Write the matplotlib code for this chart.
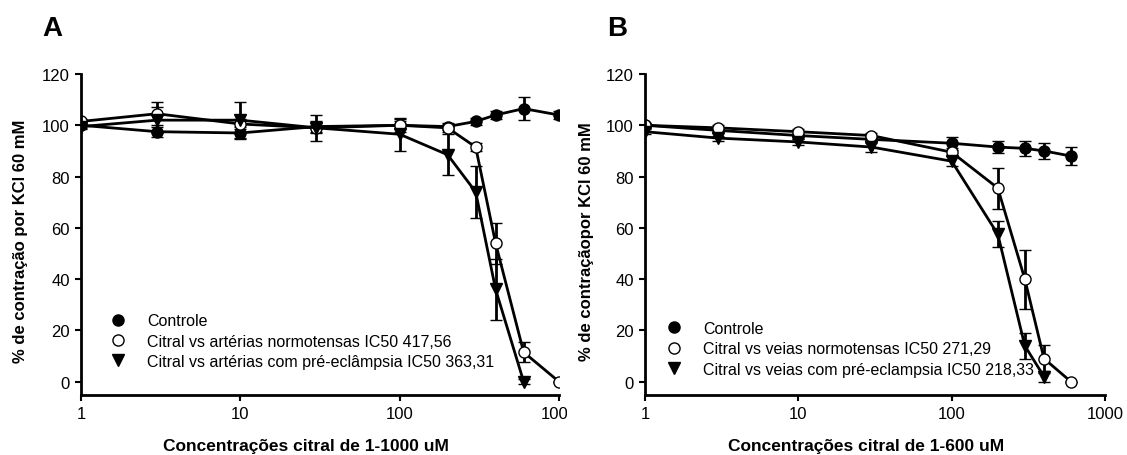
import matplotlib
matplotlib.use('Agg')
import matplotlib.pyplot as plt
from matplotlib.lines import Line2D
from matplotlib.transforms import Bbox, TransformedBbox

plt.rcParams['font.family'] = ['Liberation Sans', 'DejaVu Sans']

# painel A - arterias
conc_a = [1, 3, 10, 30, 100, 200, 300, 400, 600, 1000]
ctrl_a = [100, 97.5, 97, 99.5, 100, 99.5, 101.5, 104, 106.5, 104]
ctrl_a_err = [1, 2, 2.5, 2, 1.5, 1.5, 1.5, 1.5, 4.5, 1.5]
norm_a = [101.5, 104.5, 100.5, 99, 100, 99, 91.5, 54, 11.5, 0]
norm_a_err = [1, 4.5, 2, 2, 2.5, 1.5, 1.5, 8, 4, 0]
conc_pre_a = [1, 3, 10, 30, 100, 200, 300, 400, 600]
pre_a = [99.5, 102, 102, 99, 96.5, 88.5, 74, 36, 0]
pre_a_err = [1, 5, 7, 5, 6.5, 8, 10, 12, 1]

# painel B - veias
conc_b = [1, 3, 10, 30, 100, 200, 300, 400, 600]
ctrl_b = [100, 98, 96, 94.5, 93, 91.5, 91, 90, 88]
ctrl_b_err = [1, 1, 1.5, 1.5, 2.5, 2.5, 3, 3, 3.5]
norm_b = [100, 99, 97.5, 96, 89.5, 75.5, 40, 9, 0]
norm_b_err = [1, 1, 1, 1, 1.5, 8, 11.5, 5.5, 0]
conc_pre_b = [1, 3, 10, 30, 100, 200, 300, 400]
pre_b = [97.5, 95, 93.5, 91.5, 86, 57.5, 14, 2]
pre_b_err = [1, 1, 1, 2, 2, 5, 5, 2]

labels_a = ['Controle', 'Citral vs artérias normotensas IC50 417,56',
            'Citral vs artérias com pré-eclâmpsia IC50 363,31']
labels_b = ['Controle', 'Citral vs veias normotensas IC50 271,29',
            'Citral vs veias com pré-eclampsia IC50 218,33']

W, H = 1127, 456
fig = plt.figure(figsize=(W / 100, H / 100), dpi=100)
ax_a = fig.add_axes([81 / W, 1 - 395.5 / H, 478 / W, 320.5 / H])
ax_b = fig.add_axes([645 / W, 1 - 395.5 / H, 460 / W, 320.5 / H])

def draw(ax, series, labels, xlabel, ylabel, leg_pos, xl_x, yl_x):
    styles = [dict(marker='o', mfc='k', mec='k'),
              dict(marker='o', mfc='white', mec='k'),
              dict(marker='v', mfc='k', mec='k')]
    for (x, y, e), st in zip(series, styles):
        ax.errorbar(x, y, yerr=e, color='k', lw=2, elinewidth=2,
                    capsize=4, capthick=2, ms=8, mew=1, **st)
    ax.set_xscale('log')
    ax.set_xlim(1, 1000)
    ax.set_ylim(-5, 120)
    ax.set_xticks([1, 10, 100, 1000])
    ax.set_xticklabels(['1', '10', '100', '1000'])
    ax.xaxis.set_minor_locator(matplotlib.ticker.NullLocator())
    ax.set_yticks(range(0, 121, 20))
    for s in ['top', 'right']:
        ax.spines[s].set_visible(False)
    for s in ['left', 'bottom']:
        ax.spines[s].set_linewidth(2)
    ax.tick_params(direction='out', length=4, width=1.5, labelsize=12, pad=4)
    ax.set_xlabel(xlabel, fontsize=12.5, fontweight='bold')
    ax.set_ylabel(ylabel, fontsize=12, fontweight='bold')
    ax.xaxis.set_label_coords(xl_x, -0.135)
    ax.yaxis.set_label_coords(yl_x, 0.48)
    handles = [Line2D([], [], ls='none', color='k', ms=8, **st) for st in styles]
    ax.legend(handles, labels, loc='upper left', bbox_to_anchor=leg_pos,
              frameon=False, fontsize=11.5, handlelength=1.0, handletextpad=1.3,
              labelspacing=0.34, borderpad=0, borderaxespad=0)

draw(ax_a, [(conc_a, ctrl_a, ctrl_a_err), (conc_a, norm_a, norm_a_err),
            (conc_pre_a, pre_a, pre_a_err)], labels_a,
     'Concentrações citral de 1-1000 uM', '% de contração por KCl 60 mM',
     (0.061, 0.254), 0.47, -0.11)
draw(ax_b, [(conc_b, ctrl_b, ctrl_b_err), (conc_b, norm_b, norm_b_err),
            (conc_pre_b, pre_b, pre_b_err)], labels_b,
     'Concentrações citral de 1-600 uM', '% de contraçãopor KCl 60 mM',
     (0.046, 0.230), 0.48, -0.11)

# o rotulo 1000 do painel A aparece cortado na figura original
clip = TransformedBbox(Bbox([[0, 0], [567 / W, 1]]), fig.transFigure)
for lbl in ax_a.get_xticklabels():
    lbl.set_clip_box(clip)
    lbl.set_clip_on(True)

fig.text(42 / W, 1 - 36 / H, 'A', fontsize=20, fontweight='bold')
fig.text(607 / W, 1 - 36 / H, 'B', fontsize=20, fontweight='bold')

fig.savefig('out.png', dpi=100)
